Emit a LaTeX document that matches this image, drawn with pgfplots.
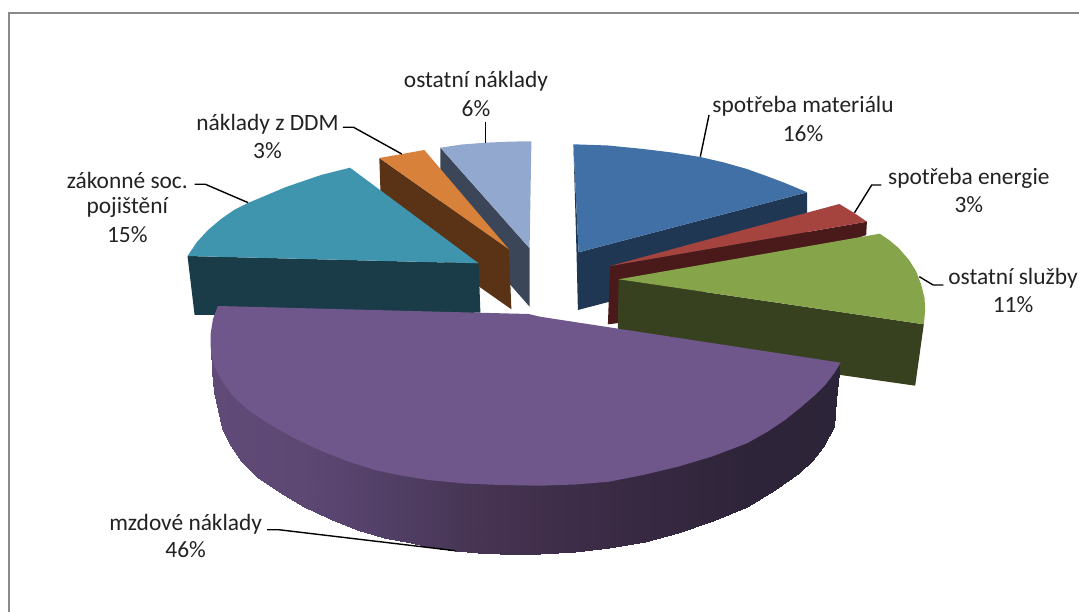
\documentclass[border=0pt]{standalone}
\usepackage{fontspec}
\setmainfont{Carlito}
\usepackage{pgfplots}
\pgfplotsset{compat=1.18}

\definecolor{blueT}{HTML}{4170A6}
\definecolor{blueW}{HTML}{203754}
\definecolor{redT}{HTML}{A5433F}
\definecolor{redW}{HTML}{4A1A1A}
\definecolor{greenT}{HTML}{86A44A}
\definecolor{greenW}{HTML}{37411F}
\definecolor{purpT}{HTML}{6F578C}
\definecolor{tealT}{HTML}{3F95AE}
\definecolor{tealW}{HTML}{1A3C48}
\definecolor{orangeT}{HTML}{D8813B}
\definecolor{orangeW}{HTML}{5A3316}
\definecolor{lblueT}{HTML}{93A8CF}
\definecolor{lblueW}{HTML}{3B4658}
\definecolor{frameC}{HTML}{8A8A8A}
\definecolor{textC}{HTML}{222222}

\tikzset{
  face/.style={draw=none, fill=#1},
  leader/.style={draw=black, line width=1.4pt},
  lab/.style={font=\fontsize{23.4}{28}\selectfont, text=textC, align=center, inner sep=0pt},
}

\begin{document}
\begin{tikzpicture}
\begin{axis}[
    hide axis,
    scale only axis,
    width=1079pt,
    height=612pt,
    xmin=0, xmax=1079,
    ymin=0, ymax=612,
    y dir=reverse,
    colormap={purpwall}{rgb255=(96,75,120) rgb255=(93,72,116) rgb255=(82,63,102) rgb255=(70,52,82)
                        rgb255=(62,45,73) rgb255=(54,40,64) rgb255=(46,36,57) rgb255=(44,36,56)},
]
% keeps the page as large as the whole axis
\addplot[draw=none] coordinates {(0,0) (1079,612)};

% frame
\addplot[draw=frameC, line width=2pt, mark=none] coordinates {(8.9,612) (8.9,12.9) (1079,12.9)};

% ostatni naklady 6%
\addplot[face=lblueW] coordinates {(440.4,147.7) (529.6,248.3) (529.6,306.7) (440.4,205)} -- cycle;
\addplot[face=lblueT] coordinates {(440.4,147.7) (462,144.5) (485.7,142.7) (510,141.6) (531.4,141.3) (529.6,248.3)} -- cycle;

% naklady z DDM 3%
\addplot[face=orangeW] coordinates {(379.3,158) (508.9,249.3) (511.4,309.3) (381.4,218)} -- cycle;
\addplot[face=orangeT] coordinates {(379.3,158) (402,154) (424.3,150) (508.9,249.3)} -- cycle;

% zakonne soc. pojisteni 15%
\addplot[face=tealW] coordinates {(187.5,256) (478.6,263.3) (480.4,312.7) (194.6,315)} -- cycle;
\addplot[face=tealT] coordinates {(350,167.7) (321,175) (286,187) (248,203) (234,210) (221,219) (208,230) (197,242) (187.5,256) (478.6,263.3)} -- cycle;

% spotreba materialu 16%
\addplot[face=blueW] coordinates {(573.4,144.3) (578.6,252.3) (807.2,192.3) (807,250) (577.9,310) (576.5,252)} -- cycle;
\addplot[face=blueT] coordinates {(573.4,144.3) (608,145.5) (643.4,149) (672,152.5) (700.3,157) (724,162.5) (746.9,169) (765,175.5) (785,183) (807.2,192.3) (578.6,252.3)} -- cycle;

% spotreba energie 3%
\addplot[face=redW] coordinates {(610,266) (866.9,221.7) (866.2,235) (616.6,323.3) (607.9,324.3)} -- cycle;
\addplot[face=redT] coordinates {(610,266) (839.3,204) (853.8,212.7) (866.9,221.7)} -- cycle;

% ostatni sluzby 11%
\addplot[face=greenW] coordinates {(618.6,279.3) (923.8,324.3) (915.2,385.7) (617.6,343)} -- cycle;
\addplot[face=greenT] coordinates {(618.6,279.3) (879.7,233.7) (889,240) (898.6,248) (909,260) (916,271) (921,284) (924.5,298) (925.2,310) (923.8,324.3)} -- cycle;

% mzdove naklady 46%, outer wall, darker to the right
\addplot[patch, patch type=rectangle, shader=interp, point meta=x] coordinates {
  (210.7,345) (212,352) (212,372) (210.7,346.7)
  (212,352) (214,364) (214,392) (212,372)
  (214,364) (217.9,372) (217.9,410) (214,392)
  (217.9,372) (222,378) (222,428) (217.9,410)
  (222,378) (228.6,386) (228.6,443.3) (222,428)
  (228.6,386) (241,400) (241,461) (228.6,443.3)
  (241,400) (257,412) (257,476.7) (241,461)
  (257,412) (279,426) (279,492) (257,476.7)
  (279,426) (303.6,439) (303.6,506.7) (279,492)
  (303.6,439) (330,451) (330,519) (303.6,506.7)
  (330,451) (357,461) (357,530) (330,519)
  (357,461) (384,469) (384,537.5) (357,530)
  (384,469) (410.7,474) (410.7,543.3) (384,537.5)
  (410.7,474) (433,478) (433,547.5) (410.7,543.3)
  (433,478) (455.4,480) (455.4,550.7) (433,547.5)
  (455.4,480) (478,482) (478,553) (455.4,550.7)
  (478,482) (500,483) (500,554) (478,553)
  (500,483) (520,484) (520,554.5) (500,554)
  (520,484) (540,484) (540,554.3) (520,554.5)
  (540,484) (575,483) (575,552) (540,554.3)
  (575,483) (609,480) (609,548.3) (575,552)
  (609,480) (645,473) (645,542) (609,548.3)
  (645,473) (677.9,465) (677.9,533.3) (645,542)
  (677.9,465) (713,454) (713,521) (677.9,533.3)
  (713,454) (746.9,441) (746.9,506.7) (713,521)
  (746.9,441) (775,425) (775,490) (746.9,506.7)
  (775,425) (798.6,408) (798.6,473.3) (775,490)
  (798.6,408) (812,396) (812,461) (798.6,473.3)
  (812,396) (823,385) (823,447) (812,461)
  (823,385) (833.8,372) (833.8,426.7) (823,447)
  (833.8,372) (836,369) (836,400) (833.8,426.7)
  (836,369) (839.3,364) (839.3,373.3) (836,400)
};
\addplot[face=purpT] coordinates {
  (217.9,306) (528.6,314) (540,316.7) (617.6,328.6) (840.7,362.7)
  (834,373.5) (826,384) (814,396) (800,408) (785,420) (767,432) (746.9,443.3) (712,456.5) (677.9,466.7)
  (643,475) (609,481.7) (575,484.5) (540,485.7) (500,485) (464,483.5) (428.6,480) (401,475.5)
  (375,470) (348,461.5) (321.4,451) (294,438) (267.9,423.3) (248,410) (232,395) (222,381)
  (214.3,366.7) (211.5,355) (210.7,346.7) (210.7,333.3) (213,319)} -- cycle;

% leader lines
\addplot[leader] coordinates {(709,115) (700.3,156.7)};
\addplot[leader] coordinates {(881.4,185) (871.7,185) (854.5,212.7)};
\addplot[leader] coordinates {(943.4,285) (933.1,285) (919.3,276.7)};
\addplot[leader] coordinates {(267,529.7) (278.6,529.7) (455.4,550.7)};
\addplot[leader] coordinates {(194.6,184.3) (205.4,184.3) (248.2,202.7)};
\addplot[leader] coordinates {(342.9,127.3) (353.6,127.3) (401.8,154)};
\addplot[leader] coordinates {(485.7,121.7) (485.7,142.7)};

% labels
\node[lab] at (axis cs:803,106.7) {spotřeba materiálu};
\node[lab] at (axis cs:803,133.3) {16\%};
\node[lab] at (axis cs:968.8,178.3) {spotřeba energie};
\node[lab] at (axis cs:968.8,205) {3\%};
\node[lab] at (axis cs:1013,278.3) {ostatní služby};
\node[lab] at (axis cs:1013,305) {11\%};
\node[lab] at (axis cs:476,81.7) {ostatní náklady};
\node[lab] at (axis cs:476,108.3) {6\%};
\node[lab] at (axis cs:267.5,124) {náklady z DDM};
\node[lab] at (axis cs:267.5,150.7) {3\%};
\node[lab] at (axis cs:127.3,180) {zákonné soc.};
\node[lab] at (axis cs:127.3,207.3) {pojištění};
\node[lab] at (axis cs:127.3,235) {15\%};
\node[lab] at (axis cs:185.7,524) {mzdové náklady};
\node[lab] at (axis cs:185.7,550) {46\%};
\end{axis}
\end{tikzpicture}
\end{document}
